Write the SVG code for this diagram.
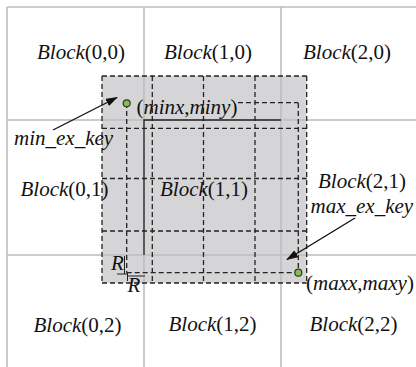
<svg xmlns="http://www.w3.org/2000/svg" width="416" height="367" viewBox="0 0 416 367">
  <defs>
    <style>
      .grid { stroke: #bdbdbd; stroke-width: 1.6; fill: none; }
      .dash { stroke: #222; stroke-width: 1.3; stroke-dasharray: 5 3; fill: none; }
      .solid { stroke: #222; stroke-width: 1.3; fill: none; }
      .lbl { font-family: "Liberation Serif", "Times New Roman", serif; font-size: 21px; fill: #111; }
      .it { font-style: italic; }
      .key { fill: #86bd55; stroke: #2f3a22; stroke-width: 1.2; }
      .arrow { stroke: #111; stroke-width: 1.4; fill: none; marker-end: url(#head); }
    </style>
    <marker id="head" viewBox="0 0 12 8" refX="11" refY="4" markerWidth="12" markerHeight="8" markerUnits="userSpaceOnUse" orient="auto">
      <path d="M0,0 L12,4 L0,8 Z" fill="#111"/>
    </marker>
  </defs>

  <rect width="416" height="367" fill="#fff"/>

  <!-- extended query region -->
  <rect x="102" y="76" width="204.7" height="207" fill="#d5d5d7"/>

  <!-- block grid -->
  <g id="block-grid">
    <path class="grid" d="M7,7 H416 M7,120 H416 M7,255 H416 M7,7 V367 M144,7 V367 M281,7 V367"/>
  </g>

  <!-- dashed cell lines of the extended region -->
  <g id="region">
    <path class="dash" d="M102,76 V283 M152.3,76 V283 M203.5,76 V283 M255,76 V283 M306.7,76 V283"/>
    <path class="dash" d="M102,76 H306.7 M102,128.3 H306.7 M102,178.5 H306.7 M102,231 H306.7 M102,283 H306.7"/>
    <path class="dash" d="M126.7,103 V272.7 M298.3,103 V272.7 M238,102.7 H298.3 M126.7,272.7 H298.3"/>
    <!-- edges of the central block -->
    <path class="solid" d="M144,255 V120 H281"/>
    <!-- R offsets -->
    <path stroke="#222" stroke-width="1" fill="none" d="M124.5,256 V274 M117,274 H127 M127,276 H145 M127.5,272 V281"/>
    <text class="lbl it" x="111" y="270">R</text>
    <text class="lbl it" x="127.5" y="292">R</text>
  </g>

  <g id="block-0-0"><text class="lbl" x="37" y="59"><tspan class="it">Block</tspan>(0,0)</text></g>
  <g id="block-1-0"><text class="lbl" x="164" y="59"><tspan class="it">Block</tspan>(1,0)</text></g>
  <g id="block-2-0"><text class="lbl" x="303" y="59"><tspan class="it">Block</tspan>(2,0)</text></g>
  <g id="block-0-1"><text class="lbl" x="20.5" y="196"><tspan class="it">Block</tspan>(0,1)</text></g>
  <g id="block-1-1"><text class="lbl" x="160" y="196"><tspan class="it">Block</tspan>(1,1)</text></g>
  <g id="block-2-1"><text class="lbl" x="318" y="188"><tspan class="it">Block</tspan>(2,1)</text></g>
  <g id="block-0-2"><text class="lbl" x="33.5" y="332"><tspan class="it">Block</tspan>(0,2)</text></g>
  <g id="block-1-2"><text class="lbl" x="168.5" y="331"><tspan class="it">Block</tspan>(1,2)</text></g>
  <g id="block-2-2"><text class="lbl" x="309.5" y="331"><tspan class="it">Block</tspan>(2,2)</text></g>

  <g id="min-key">
    <circle class="key" cx="126.7" cy="103.3" r="3.5"/>
    <text class="lbl" x="136.5" y="114">(<tspan class="it">minx</tspan>,<tspan class="it">miny</tspan>)</text>
    <text class="lbl it" x="14" y="145">min_ex_key</text>
  </g>

  <g id="max-key">
    <circle class="key" cx="298.3" cy="272.7" r="3.5"/>
    <text class="lbl" x="306" y="290">(<tspan class="it">maxx</tspan>,<tspan class="it">maxy</tspan>)</text>
    <text class="lbl it" x="310.5" y="213">max_ex_key</text>
  </g>

  <g id="connectors">
    <line class="arrow" x1="53" y1="130" x2="117" y2="97.5"/>
    <line class="arrow" x1="355" y1="218" x2="287" y2="259.5"/>
  </g>
</svg>
